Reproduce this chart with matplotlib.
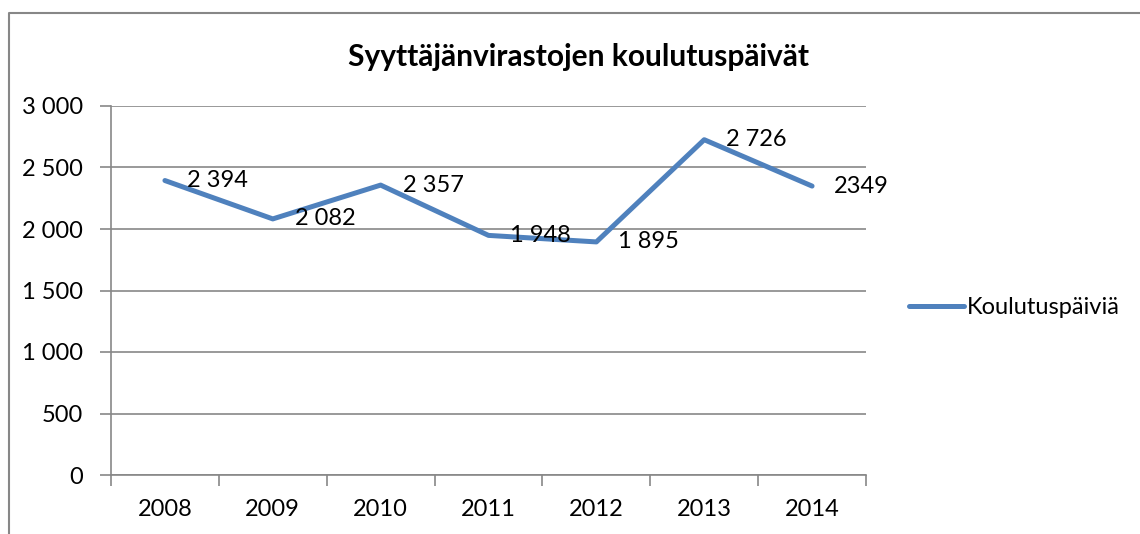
import matplotlib
matplotlib.use("Agg")
import matplotlib.pyplot as plt
from matplotlib.lines import Line2D

# Data
vuodet = ["2008", "2009", "2010", "2011", "2012", "2013", "2014"]
koulutuspaivat = [2394, 2082, 2357, 1948, 1895, 2726, 2349]
arvo_tekstit = ["2 394", "2 082", "2 357", "1 948", "1 895", "2 726", "2349"]
y_ticks = [0, 500, 1000, 1500, 2000, 2500, 3000]
y_tick_labels = ["0", "500", "1 000", "1 500", "2 000", "2 500", "3 000"]

W, H = 1140, 534
plt.rcParams['font.family'] = ['Lato', 'DejaVu Sans']

fig = plt.figure(figsize=(W / 100, H / 100), dpi=100)
ax = fig.add_axes([111 / W, (H - 475) / H, (866 - 111) / W, (475 - 106) / H])

x = list(range(len(vuodet)))
line, = ax.plot(x, koulutuspaivat, color='#4F81BD', linewidth=3.6,
                solid_capstyle='round', solid_joinstyle='round', zorder=3)

for xi, yi, txt in zip(x, koulutuspaivat, arvo_tekstit):
    ax.annotate(txt, (xi, yi), xytext=(22, 0), textcoords='offset pixels',
                ha='left', va='center', fontsize=17, color='black', zorder=4)

ax.set_xlim(-0.5, len(vuodet) - 0.5)
ax.set_ylim(0, 3000)

# gridlines
ax.set_yticks(y_ticks)
ax.set_yticklabels(y_tick_labels, fontsize=17)
ax.yaxis.grid(True, color='#878787', linewidth=1.2)
ax.set_axisbelow(True)

# category ticks at boundaries, labels at centers
ax.set_xticks([i - 0.5 for i in range(len(vuodet) + 1)])
ax.set_xticklabels([])
ax.set_xticks(x, minor=True)
ax.set_xticklabels(vuodet, minor=True, fontsize=17)
ax.tick_params(axis='x', which='major', length=8, width=1.2, color='#878787', direction='out')
ax.tick_params(axis='x', which='minor', length=0, pad=17)
ax.tick_params(axis='y', length=8, width=1.2, color='#878787', direction='out', pad=12)

for side in ['top', 'right']:
    ax.spines[side].set_visible(False)
for side in ['left', 'bottom']:
    ax.spines[side].set_color('#878787')
    ax.spines[side].set_linewidth(1.2)

fig.text(579 / W, 1 - 57 / H, "Syyttäjänvirastojen koulutuspäivät",
         ha='center', va='center', fontsize=21.5, fontweight='bold')

fig.legend([line], ["Koulutuspäiviä"], loc='center left',
           bbox_to_anchor=(888 / W, 1 - 308 / H), frameon=False,
           fontsize=17, handlelength=2.3, handletextpad=0.15)

# outer frame (only top and left visible in the crop)
fig.add_artist(Line2D([9 / W, 9 / W, 1.0], [0.0, 1 - 13 / H, 1 - 13 / H],
                      transform=fig.transFigure, color='#878787', linewidth=1.5))

fig.savefig("out.png", dpi=100)
